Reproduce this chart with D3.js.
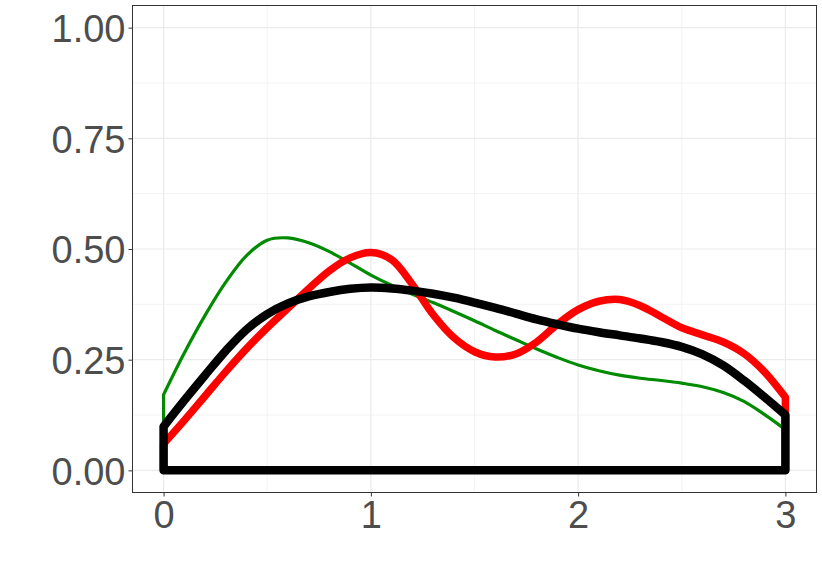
<!DOCTYPE html>
<html><head><meta charset="utf-8">
<script src="https://cdn.jsdelivr.net/npm/d3@7"></script>
<style>body{margin:0;background:#fff}svg{display:block}</style>
</head><body>
<script>
const xs = [0,0.1,0.2,0.3,0.4,0.5,0.6,0.7,0.8,0.9,1.0,1.1,1.2,1.3,1.4,1.5,1.6,1.7,1.8,1.9,2.0,2.1,2.2,2.3,2.4,2.5,2.6,2.7,2.8,2.9,3.0];
const greenY = [0.171,0.265,0.35,0.425,0.485,0.52,0.525,0.514,0.494,0.468,0.441,0.418,0.398,0.379,0.359,0.338,0.316,0.295,0.274,0.255,0.238,0.225,0.215,0.208,0.203,0.197,0.189,0.176,0.156,0.126,0.092];
const redY = [0.06,0.113,0.168,0.223,0.275,0.322,0.366,0.41,0.451,0.48,0.492,0.476,0.42,0.352,0.3,0.268,0.256,0.263,0.29,0.33,0.363,0.382,0.386,0.372,0.347,0.322,0.306,0.29,0.264,0.222,0.165];
const blackY = [0.099,0.158,0.215,0.27,0.318,0.353,0.377,0.393,0.403,0.41,0.413,0.411,0.406,0.399,0.39,0.379,0.367,0.354,0.341,0.33,0.32,0.312,0.305,0.298,0.29,0.279,0.262,0.237,0.203,0.165,0.125];
const xTicks = [0,1,2,3];
const xTickLabels = ["0","1","2","3"];
const yTicks = [0,0.25,0.5,0.75,1];
const yTickLabels = ["0.00","0.25","0.50","0.75","1.00"];
const xMinor = [0.5,1.5,2.5];
const yMinor = [0.125,0.375,0.625,0.875];

const W = 822, H = 587;
const pl = 132.5, pr = 816.5, pt = 5.5, pb = 492.5;
const x = d3.scaleLinear().domain([-0.15,3.15]).range([pl,pr]);
const y = d3.scaleLinear().domain([-0.05,1.05]).range([pb,pt]);

const svg = d3.select("body").append("svg").attr("width",W).attr("height",H);

const g = svg.append("g");
g.selectAll(".xminor").data(xMinor).join("line")
  .attr("x1",d=>x(d)).attr("x2",d=>x(d)).attr("y1",pt).attr("y2",pb)
  .attr("stroke","#EBEBEB").attr("stroke-width",0.6);
g.selectAll(".yminor").data(yMinor).join("line")
  .attr("y1",d=>y(d)).attr("y2",d=>y(d)).attr("x1",pl).attr("x2",pr)
  .attr("stroke","#EBEBEB").attr("stroke-width",0.6);
g.selectAll(".xmajor").data(xTicks).join("line")
  .attr("x1",d=>x(d)).attr("x2",d=>x(d)).attr("y1",pt).attr("y2",pb)
  .attr("stroke","#EBEBEB").attr("stroke-width",1.2);
g.selectAll(".ymajor").data(yTicks).join("line")
  .attr("y1",d=>y(d)).attr("y2",d=>y(d)).attr("x1",pl).attr("x2",pr)
  .attr("stroke","#EBEBEB").attr("stroke-width",1.2);

const lineGen = d3.line().x(d=>x(d[0])).y(d=>y(d[1])).curve(d3.curveCatmullRom.alpha(0.5));
function pathFor(vals){
  const top = xs.map((v,i)=>[v,vals[i]]);
  const s = lineGen(top);
  return "M" + x(xs[0]) + "," + y(0) + "L" + s.slice(1) + "L" + x(xs[xs.length-1]) + "," + y(0) + "Z";
}
const series = [
  {vals:greenY, color:"#008B00", w:3.2},
  {vals:redY, color:"#FF0000", w:7.5},
  {vals:blackY, color:"#000000", w:8.5}
];
svg.append("clipPath").attr("id","clip").append("rect")
  .attr("x",pl).attr("y",pt).attr("width",pr-pl).attr("height",pb-pt);
const dg = svg.append("g").attr("clip-path","url(#clip)");
series.forEach(s=>{
  dg.append("path").attr("d",pathFor(s.vals)).attr("fill","none")
    .attr("stroke",s.color).attr("stroke-width",s.w)
    .attr("stroke-linejoin","round").attr("stroke-linecap","round");
});

svg.append("rect").attr("x",pl).attr("y",pt).attr("width",pr-pl).attr("height",pb-pt)
  .attr("fill","none").attr("stroke","#333333").attr("stroke-width",1);

const xAxis = svg.append("g").attr("transform",`translate(0,${pb})`)
  .call(d3.axisBottom(x).tickValues(xTicks).tickFormat((d,i)=>xTickLabels[i]).tickSize(4).tickPadding(5));
const yAxis = svg.append("g").attr("transform",`translate(${pl},0)`)
  .call(d3.axisLeft(y).tickValues(yTicks).tickFormat((d,i)=>yTickLabels[i]).tickSize(4).tickPadding(3));
[xAxis,yAxis].forEach(a=>{
  a.select(".domain").remove();
  a.selectAll(".tick line").attr("stroke","#333333").attr("stroke-width",1);
  a.selectAll(".tick text").attr("fill","#4D4D4D")
    .style("font-family","'Liberation Sans', Arial, sans-serif").style("font-size","38px");
});
xAxis.selectAll(".tick text").attr("dy","0.71em");
yAxis.selectAll(".tick text").attr("dy","0.36em");
</script>
</body></html>
